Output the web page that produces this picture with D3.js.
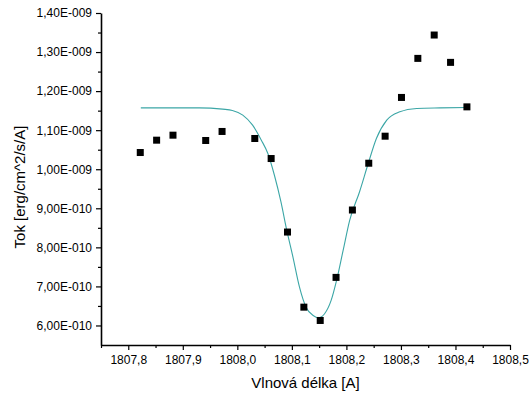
<!DOCTYPE html>
<html>
<head>
<meta charset="utf-8">
<script src="https://cdn.jsdelivr.net/npm/d3@7"></script>
<style>
  body { margin: 0; background: #fff; }
  svg { font-family: Arial, 'Liberation Sans', sans-serif; }
</style>
</head>
<body>
<svg id="chart" width="529" height="397"></svg>
<script>
// measured points
const waveX = [1807.822, 1807.852, 1807.882, 1807.942, 1807.972, 1808.032, 1808.062, 1808.092, 1808.122, 1808.152,
  1808.181, 1808.211, 1808.241, 1808.271, 1808.301, 1808.331, 1808.361, 1808.391, 1808.421]
const fluxY = [1.0428e-9, 1.0744e-9, 1.0872e-9, 1.0736e-9, 1.0967e-9, 1.0787e-9, 1.0274e-9, 8.392e-10, 6.469e-10, 6.128e-10,
  7.231e-10, 8.956e-10, 1.0154e-9, 1.0846e-9, 1.1838e-9, 1.2838e-9, 1.3436e-9, 1.2736e-9, 1.1597e-9]

// gauss fit
const fitX = [1807.823, 1807.930, 1807.973, 1807.991, 1808.010, 1808.028, 1808.044, 1808.056, 1808.068, 1808.080,
  1808.090, 1808.102, 1808.114, 1808.126, 1808.139, 1808.149, 1808.160, 1808.172, 1808.182, 1808.194,
  1808.206, 1808.224, 1808.240, 1808.255, 1808.274, 1808.298, 1808.329, 1808.372, 1808.420]
const fitY = [1.1572e-9, 1.1572e-9, 1.1538e-9, 1.1505e-9, 1.1385e-9, 1.1128e-9, 1.0744e-9, 1.0403e-9, 9.846e-10, 9.162e-10,
  8.479e-10, 7.751e-10, 6.982e-10, 6.469e-10, 6.256e-10, 6.197e-10, 6.300e-10, 6.641e-10, 7.154e-10, 7.923e-10,
  8.692e-10, 9.418e-10, 1.0146e-9, 1.0787e-9, 1.1256e-9, 1.1469e-9, 1.1556e-9, 1.1572e-9, 1.1582e-9]

const xTicks = [1807.8, 1807.9, 1808.0, 1808.1, 1808.2, 1808.3, 1808.4, 1808.5]
const xMinor = [1807.75, 1807.85, 1807.95, 1808.05, 1808.15, 1808.25, 1808.35, 1808.45]
const yTicks = [6e-10, 7e-10, 8e-10, 9e-10, 1.0e-9, 1.1e-9, 1.2e-9, 1.3e-9, 1.4e-9]
const yMinor = [6.5e-10, 7.5e-10, 8.5e-10, 9.5e-10, 1.05e-9, 1.15e-9, 1.25e-9, 1.35e-9]

const svg = d3.select('#chart')
const margin = { left: 101, right: 19, top: 13, bottom: 52 }
const width = 529
const height = 397

const x = d3.scaleLinear().domain([1807.75, 1808.5]).range([margin.left, width - margin.right])
const y = d3.scaleLinear().domain([5.5e-10, 1.4e-9]).range([height - margin.bottom, margin.top])

const sciFormat = v => {
	const e = Math.floor(Math.log10(v) + 1e-9)
	const m = v / Math.pow(10, e)
	const sign = e < 0 ? '-' : '+'
	return m.toFixed(2).replace('.', ',') + 'E' + sign + String(Math.abs(e)).padStart(3, '0')
}
const commaFormat = v => d3.format('.1f')(v).replace('.', ',')

// minor ticks first
svg.append('g')
	.attr('transform', `translate(0, ${height - margin.bottom})`)
	.call(d3.axisBottom(x).tickValues(xMinor).tickSize(3).tickFormat(''))
	.call(g => g.select('.domain').remove())
svg.append('g')
	.attr('transform', `translate(${margin.left}, 0)`)
	.call(d3.axisLeft(y).tickValues(yMinor).tickSize(3).tickFormat(''))
	.call(g => g.select('.domain').remove())

const xAxis = svg.append('g')
	.attr('transform', `translate(0, ${height - margin.bottom})`)
	.call(d3.axisBottom(x).tickValues(xTicks).tickSize(5).tickPadding(5).tickSizeOuter(0).tickFormat(commaFormat))
xAxis.selectAll('text').style('font-size', '12px').attr('fill', '#000')

const yAxis = svg.append('g')
	.attr('transform', `translate(${margin.left}, 0)`)
	.call(d3.axisLeft(y).tickValues(yTicks).tickSize(5).tickPadding(4).tickSizeOuter(0).tickFormat(sciFormat))
yAxis.selectAll('text').style('font-size', '12px').attr('fill', '#000')

svg.selectAll('.domain').attr('stroke-width', 1.6)
svg.selectAll('.tick line').attr('stroke-width', 1.2)

// fit curve
const line = d3.line().x((d, i) => x(fitX[i])).y(d => y(d)).curve(d3.curveMonotoneX)
svg.append('path')
	.datum(fitY)
	.attr('d', line)
	.attr('fill', 'none')
	.attr('stroke', '#3ba6a6')
	.attr('stroke-width', 1.1)

// data squares
const size = 7
svg.selectAll('rect.pt')
	.data(fluxY)
	.join('rect')
	.attr('class', 'pt')
	.attr('x', (d, i) => x(waveX[i]) - size / 2)
	.attr('y', d => y(d) - size / 2)
	.attr('width', size)
	.attr('height', size)
	.attr('fill', '#000')

svg.append('text')
	.attr('x', (margin.left + width - margin.right) / 2)
	.attr('y', 388)
	.attr('text-anchor', 'middle')
	.style('font-size', '15px')
	.text('Vlnová délka [A]')

svg.append('text')
	.attr('transform', 'translate(25, 187) rotate(-90)')
	.attr('text-anchor', 'middle')
	.style('font-size', '15px')
	.text('Tok [erg/cm^2/s/A]')
</script>
</body>
</html>
